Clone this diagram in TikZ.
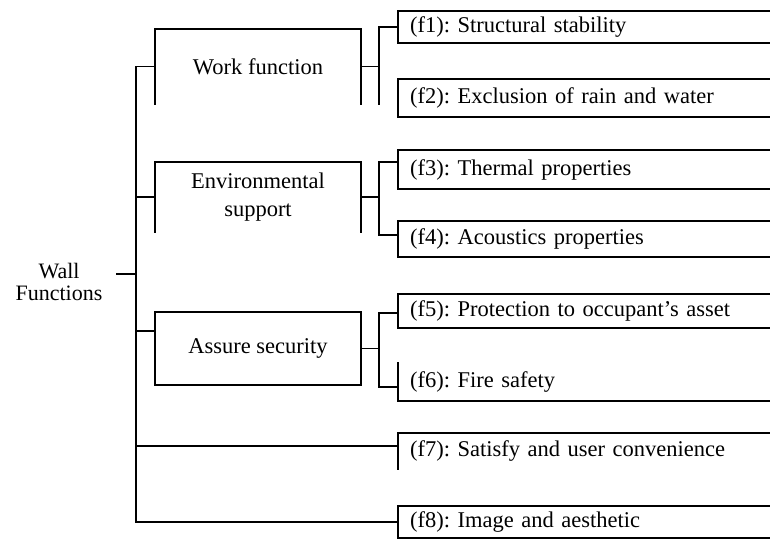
\documentclass[tikz,border=0pt]{standalone}
\usepackage{fontspec}
\setmainfont{Liberation Serif}
\frenchspacing
\begin{document}
\begin{tikzpicture}[x=1pt,y=-1pt,
  ln/.style={line width=1.6pt, line cap=rect},
  lbl/.style={font=\fontsize{22.5}{27}\selectfont},
  fbox/.style={lbl, anchor=west, text width=370pt, inner xsep=12pt, inner ysep=0pt, align=left},
  mbox/.style={lbl, minimum width=206pt, inner sep=0pt, align=center}]
\useasboundingbox (0,0) rectangle (770,540);
\clip (0,0) rectangle (770,540);

% root
\node[align=center, inner sep=0pt, font=\fontsize{22}{22.5}\selectfont] (root) at (59,282) {Wall\\Functions};

% middle level
\node[mbox, minimum height=75pt] (work) at (258,66.5) {Work function};
\node[mbox, minimum height=70pt, font=\fontsize{22.5}{28}\selectfont] (env) at (258,197) {Environmental\\support};
\node[mbox, minimum height=73pt] (sec) at (258,348.5) {Assure security};

% leaves
\node[fbox, minimum height=32pt] (f1) at (398,27) {(f1): Structural stability};
\node[fbox, minimum height=38pt] (f2) at (398,98) {(f2): Exclusion of rain and water};
\node[fbox, minimum height=39pt] (f3) at (398,169.5) {(f3): Thermal properties};
\node[fbox, minimum height=36pt] (f4) at (398,239) {(f4): Acoustics properties};
\node[fbox, minimum height=34pt] (f5) at (398,311) {(f5): Protection to occupant’s asset};
\node[fbox, minimum height=38pt] (f6) at (398,382) {(f6): Fire safety};
\node[fbox, minimum height=36pt] (f7) at (398,451) {(f7): Satisfy and user convenience};
\node[fbox, minimum height=32pt] (f8) at (398,522) {(f8): Image and aesthetic};

% box outlines as drawn
\draw[ln] (work.south west) -- (work.north west) -- (work.north east) -- (work.south east);
\draw[ln] (env.south west) -- (env.north west) -- (env.north east) -- (env.south east);
\draw[ln] (sec.south west) rectangle (sec.north east);
\foreach \f in {f1,f2,f3,f4,f5,f8}
  \draw[ln] (\f.north east) -- (\f.north west) -- (\f.south west) -- (\f.south east);
\draw[ln] (f6.north west) -- (f6.south west) -- (f6.south east);
\draw[ln] (f7.north east) -- (f7.north west) -- (f7.south west);

% trunk
\coordinate (tt) at (136,66.5);
\coordinate (r0) at (117,274);
\coordinate (c3) at (136,331);
\coordinate (c7) at (136,446);
\draw[ln] (r0) -- (r0 -| tt);
\draw[ln] (tt) -- (tt |- f8.west) -- (f8.west);
\draw[ln] (tt) -- (work.west);
\draw[ln] (tt |- env.west) -- (env.west);
\draw[ln] (c3) -- (c3 -| sec.west);
\draw[ln] (c7) -- (c7 -| f7.west);

% work bracket
\coordinate (w1) at (379,27);
\draw[ln] (work.east) -- (work.east -| w1);
\draw[ln] (f1.west) -- (w1) -- (w1 |- work.south);

% env bracket
\coordinate (e1) at (379,162);
\coordinate (e2) at (379,235);
\draw[ln] (env.east) -- (env.east -| e1);
\draw[ln] (e1 -| f3.west) -- (e1) -- (e2) -- (e2 -| f4.west);

% security bracket
\coordinate (s1) at (379,313);
\coordinate (s2) at (379,387);
\draw[ln] (sec.east) -- (sec.east -| s1);
\draw[ln] (s1 -| f5.west) -- (s1) -- (s2) -- (s2 -| f6.west);
\end{tikzpicture}
\end{document}
